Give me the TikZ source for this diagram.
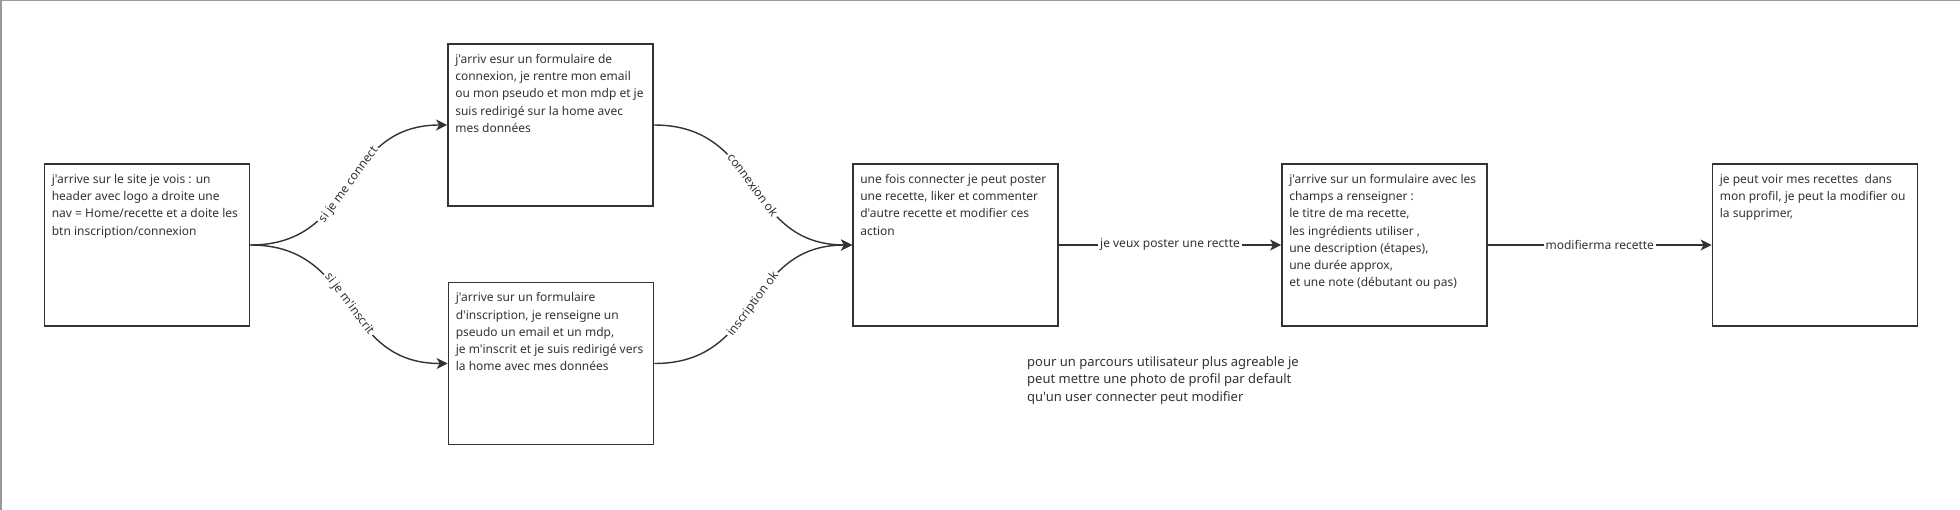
\documentclass[tikz,border=0pt]{standalone}
\usepackage{fontspec}
\newfontfamily\nsans{Noto Sans}
\usetikzlibrary{arrows.meta}
\definecolor{ink}{HTML}{333333}
\definecolor{frame}{HTML}{9A9A9A}
\begin{document}
\begin{tikzpicture}[x=1pt,y=-1pt,
  box/.style={draw=ink,line width=1.8pt,minimum width=205pt,minimum height=162pt,inner sep=0pt,fill=white},
  txt/.style={anchor=north west,inner sep=0pt,align=left,text=ink,font=\nsans\fontsize{12}{17.2}\selectfont},
  conn/.style={draw=ink,line width=1.4pt,-{Stealth[length=11pt,width=11pt,inset=3pt]}},
  lbl/.style={fill=white,inner sep=2pt,text=ink,font=\nsans\fontsize{12}{14}\selectfont}]
\useasboundingbox (0,0) rectangle (1960,510);
\fill[white] (0,0) rectangle (1960,510);
\draw[frame,line width=1.5pt] (0.75,510) -- (0.75,0.75) -- (1960,0.75);

\node[box] (b1) at (147,245) {};
\node[box] (b2) at (550.5,125) {};
\node[box] (b3) at (551,363.5) {};
\node[box] (b4) at (955.5,245) {};
\node[box] (b5) at (1384.5,245) {};
\node[box] (b6) at (1815,245) {};

\node[txt] (t1) at ([xshift=8pt,yshift=-11pt]b1.north west) {j'arrive sur le site je vois : un\\header avec logo a droite une\\nav = Home/recette et a doite les\\btn inscription/connexion};
\node[txt] (t2) at ([xshift=8pt,yshift=-11pt]b2.north west) {j'arriv esur un formulaire de\\connexion, je rentre mon email\\ou mon pseudo et mon mdp et je\\suis redirigé sur la home avec\\mes données};
\node[txt] (t3) at ([xshift=8pt,yshift=-11pt]b3.north west) {j'arrive sur un formulaire\\d'inscription, je renseigne un\\pseudo un email et un mdp,\\je m'inscrit et je suis redirigé vers\\la home avec mes données};
\node[txt] (t4) at ([xshift=8pt,yshift=-11pt]b4.north west) {une fois connecter je peut poster\\une recette, liker et commenter\\d'autre recette et modifier ces\\action};
\node[txt] (t5) at ([xshift=8pt,yshift=-11pt]b5.north west) {j'arrive sur un formulaire avec les\\champs a renseigner :\\le titre de ma recette,\\les ingrédients utiliser ,\\une description (étapes),\\une durée approx,\\et une note (débutant ou pas)};
\node[txt] (t6) at ([xshift=8pt,yshift=-11pt]b6.north west) {je peut voir mes recettes\ \ dans\\mon profil, je peut la modifier ou\\la supprimer,};

\node[txt,font=\nsans\fontsize{13}{17.5}\selectfont] (note) at (1027,356) {pour un parcours utilisateur plus agreable je\\peut mettre une photo de profil par default\\qu'un user connecter peut modifier};

\draw[conn] (b1.east) to[out=0,in=180,looseness=1.2] node[lbl,sloped] (l1) {si je me connect} (b2.west);
\draw[conn] (b1.east) to[out=0,in=180,looseness=1.2] node[lbl,sloped] (l2) {si je m'inscrit} (b3.west);
\draw[conn] (b2.east) to[out=0,in=180,looseness=1.2] node[lbl,sloped] (l3) {connexion ok} (b4.west);
\draw[conn] (b3.east) to[out=0,in=180,looseness=1.2] node[lbl,sloped] (l4) {inscription ok} (b4.west);
\draw[conn] (b4.east) -- node[lbl] (l5) {je veux poster une rectte} (b5.west);
\draw[conn] (b5.east) -- node[lbl] (l6) {modifierma recette} (b6.west);
\end{tikzpicture}
\end{document}
